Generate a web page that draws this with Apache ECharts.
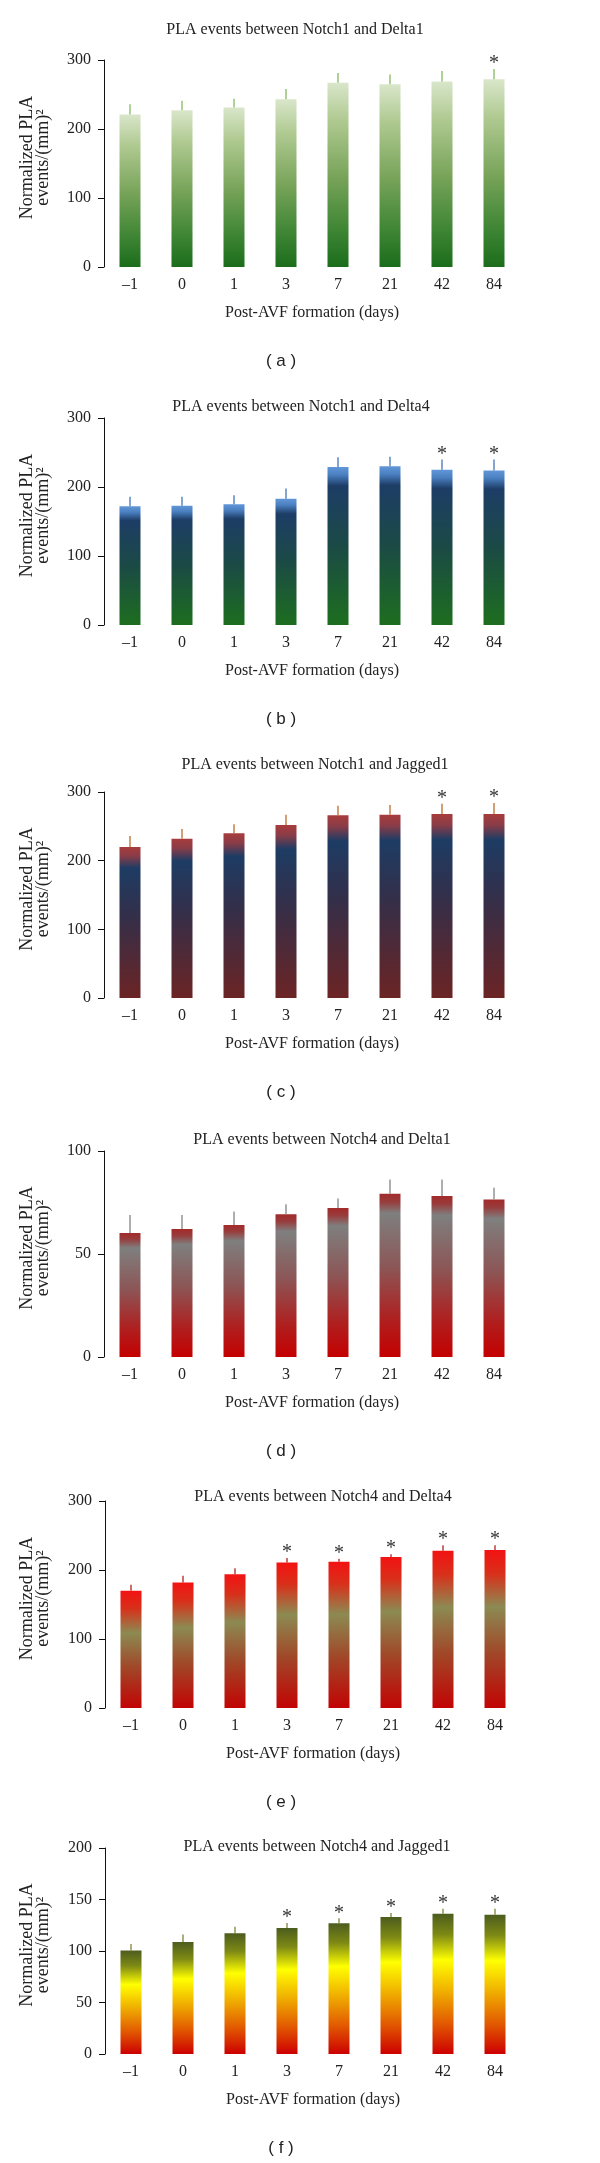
<!DOCTYPE html>
<html>
<head>
<meta charset="utf-8">
<script src="https://cdn.jsdelivr.net/npm/echarts@6/dist/echarts.min.js"></script>
<style>
html,body{margin:0;padding:0;background:#fff;}
#main{width:600px;height:2163px;}
</style>
</head>
<body>
<div id="main"></div>
<script>
// ---- data ----
var categories = ['–1', '0', '1', '3', '7', '21', '42', '84'];

var titles = [
  'PLA events between Notch1 and Delta1',
  'PLA events between Notch1 and Delta4',
  'PLA events between Notch1 and Jagged1',
  'PLA events between Notch4 and Delta1',
  'PLA events between Notch4 and Delta4',
  'PLA events between Notch4 and Jagged1'
];
var panelLabels = ['( a )', '( b )', '( c )', '( d )', '( e )', '( f )'];
var xAxisTitle = 'Post-AVF formation (days)';
var yAxisTitle1 = 'Normalized PLA';
var yAxisTitle2 = 'events/(mm)²';

var meansA = [221, 227, 231, 243, 267, 265, 269, 272];
var errA   = [15, 14, 13, 15, 14, 14, 15, 15];
var starA  = [0, 0, 0, 0, 0, 0, 0, 1];

var meansB = [172, 173, 175, 183, 229, 230, 225, 224];
var errB   = [14, 13, 13, 15, 14, 14, 15, 16];
var starB  = [0, 0, 0, 0, 0, 0, 1, 1];

var meansC = [220, 232, 240, 252, 266, 267, 268, 268];
var errC   = [16, 14, 13, 15, 14, 14, 15, 16];
var starC  = [0, 0, 0, 0, 0, 0, 1, 1];

var meansD = [60.2, 62.1, 64.1, 69.3, 72.3, 79.3, 78.2, 76.4];
var errD   = [8.7, 6.8, 6.5, 4.8, 4.6, 6.9, 8.0, 5.8];
var starD  = [0, 0, 0, 0, 0, 0, 0, 0];

var meansE = [170, 182, 194, 211, 212, 219, 228, 229];
var errE   = [8.5, 9.6, 8.7, 6.3, 4.3, 4.0, 8.0, 7.0];
var starE  = [0, 0, 0, 1, 1, 1, 1, 1];

var meansF = [100.6, 108.7, 117.2, 122.3, 126.9, 133.0, 136.2, 135.3];
var errF   = [6.2, 7.2, 6.4, 4.9, 4.8, 3.9, 4.9, 5.8];
var starF  = [0, 0, 0, 1, 1, 1, 1, 1];

var yMax      = [300, 300, 300, 100, 300, 200];
var yInterval = [100, 100, 100, 50, 100, 50];

// ---- styling / layout ----
var SERIF = '"Liberation Serif", "DejaVu Serif", serif';
var SANS = '"Liberation Sans", Arial, sans-serif';

var panels = [
  {means: meansA, err: errA, star: starA},
  {means: meansB, err: errB, star: starB},
  {means: meansC, err: errC, star: starC},
  {means: meansD, err: errD, star: starD},
  {means: meansE, err: errE, star: starE},
  {means: meansF, err: errF, star: starF}
];

var layout = [
  {left: 104, top: 60,   height: 207, titleX: 295, titleY: 30},
  {left: 104, top: 418,  height: 207, titleX: 301, titleY: 407},
  {left: 104, top: 792,  height: 206, titleX: 315, titleY: 765},
  {left: 104, top: 1151, height: 206, titleX: 322, titleY: 1140},
  {left: 105, top: 1501, height: 207, titleX: 323, titleY: 1497},
  {left: 105, top: 1848, height: 206, titleX: 317, titleY: 1847}
];

var gradients = [
  [[0,'#d9e6ca'],[0.2,'#b0ca92'],[0.5,'#7aa55b'],[0.8,'#3e8534'],[1,'#1b6d1b']],
  [[0,'#6196d8'],[0.05,'#4a7fc0'],[0.12,'#1d3d66'],[0.5,'#1b4a45'],[1,'#1d6e1f']],
  [[0,'#a83c3c'],[0.06,'#8a3c48'],[0.14,'#1d3c64'],[0.45,'#332f4a'],[1,'#6b2424']],
  [[0,'#a32a2a'],[0.05,'#983c3c'],[0.12,'#7f7f7f'],[0.45,'#8c5656'],[0.78,'#b01e1e'],[1,'#c40000']],
  [[0,'#f21212'],[0.15,'#d8301a'],[0.36,'#8c8a52'],[0.65,'#a04828'],[1,'#c20404']],
  [[0,'#4c5c1e'],[0.15,'#7e8a14'],[0.33,'#ffff00'],[0.55,'#f0b000'],[0.78,'#e25a00'],[1,'#cc0000']]
];
var errColors = ['#8dbf6c', '#4f7fbf', '#c0763a', '#8c8c8c', '#b83030', '#8a8a4a'];

var chart = echarts.init(document.getElementById('main'), null, {renderer: 'canvas'});

var grids = [], xAxes = [], yAxes = [], series = [], graphics = [];

panels.forEach(function (p, i) {
  var L = layout[i];
  grids.push({left: L.left, top: L.top, width: 416, height: L.height, containLabel: false});
  xAxes.push({
    type: 'category', gridIndex: i, data: categories,
    axisLine: {show: false}, axisTick: {show: false},
    axisLabel: {fontFamily: SERIF, fontSize: 16, color: '#222', margin: 10},
    name: xAxisTitle, nameLocation: 'middle', nameGap: 38,
    nameTextStyle: {fontFamily: SERIF, fontSize: 16, color: '#222'}
  });
  yAxes.push({
    type: 'value', gridIndex: i, min: 0, max: yMax[i], interval: yInterval[i],
    axisLine: {show: true, lineStyle: {color: '#111', width: 1}},
    axisTick: {show: true, length: 6, lineStyle: {color: '#111'}},
    axisLabel: {fontFamily: SERIF, fontSize: 16, color: '#222', margin: 13},
    splitLine: {show: false}
  });
  series.push({
    type: 'bar', xAxisIndex: i, yAxisIndex: i, barWidth: 21,
    data: p.means,
    itemStyle: {color: new echarts.graphic.LinearGradient(0, 0, 0, 1,
      gradients[i].map(function (s) { return {offset: s[0], color: s[1]}; }))},
    silent: true, animation: false
  });
  var errData = p.means.map(function (m, k) { return [k, m, m + p.err[k], p.star[k]]; });
  series.push({
    type: 'custom', xAxisIndex: i, yAxisIndex: i, data: errData,
    encode: {x: 0, y: [1, 2]}, silent: true, animation: false, z: 5,
    renderItem: (function (col) {
      return function (params, api) {
        var c = api.value(0);
        var p0 = api.coord([c, api.value(1)]);
        var p1 = api.coord([c, api.value(2)]);
        var children = [{
          type: 'line',
          shape: {x1: p0[0], y1: p0[1], x2: p1[0], y2: p1[1]},
          style: {stroke: col, lineWidth: 1.4}
        }];
        if (api.value(3)) {
          children.push({
            type: 'text', x: p1[0], y: p1[1] - 5,
            style: {text: '*', font: '20px ' + SERIF, fill: '#333',
                    align: 'center', verticalAlign: 'middle',
                    textAlign: 'center', textVerticalAlign: 'middle'}
          });
        }
        return {type: 'group', children: children};
      };
    })(errColors[i])
  });
  // title
  graphics.push({
    type: 'text', x: L.titleX, y: L.titleY,
    style: {text: titles[i], font: '16px ' + SERIF, fill: '#222',
            align: 'center', verticalAlign: 'middle',
            textAlign: 'center', textVerticalAlign: 'middle'}
  });
  // y-axis title (two lines, rotated)
  graphics.push({
    type: 'text', x: 35, y: L.top + L.height / 2 - 6, rotation: Math.PI / 2,
    style: {text: yAxisTitle1 + '\n' + yAxisTitle2, font: '18px ' + SERIF, fill: '#222',
            lineHeight: 16,
            align: 'center', verticalAlign: 'middle',
            textAlign: 'center', textVerticalAlign: 'middle'}
  });
  // panel label
  graphics.push({
    type: 'text', x: 281, y: L.top + L.height + 94,
    style: {text: panelLabels[i], font: '17px ' + SANS, fill: '#222',
            align: 'center', verticalAlign: 'middle',
            textAlign: 'center', textVerticalAlign: 'middle'}
  });
});

chart.setOption({
  animation: false,
  backgroundColor: '#ffffff',
  grid: grids,
  xAxis: xAxes,
  yAxis: yAxes,
  series: series,
  graphic: {elements: graphics}
});
</script>
</body>
</html>
